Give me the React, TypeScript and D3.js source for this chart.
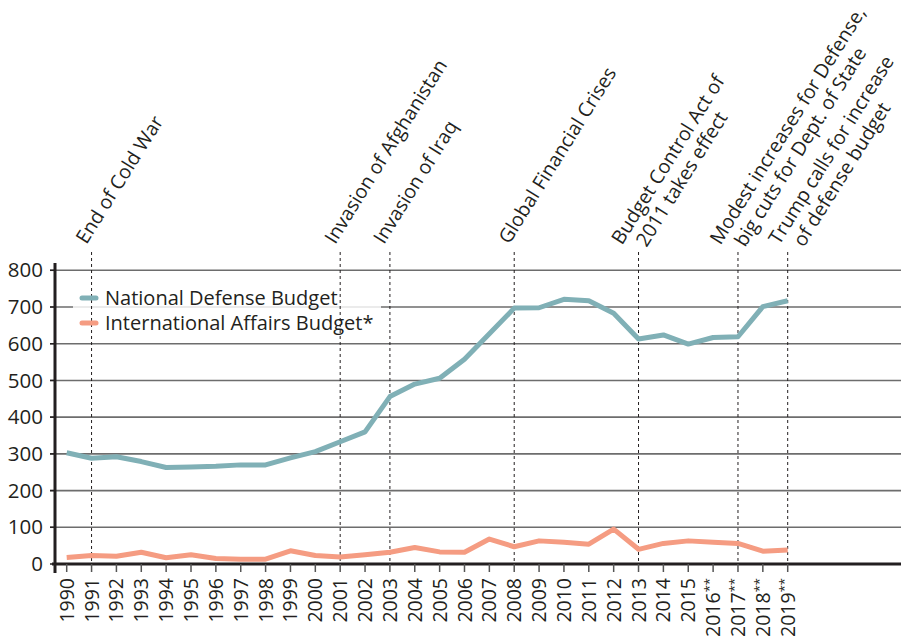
import React from 'react';
import { scaleLinear, line } from 'd3';

// US budget, billions of dollars
const years = [1990, 1991, 1992, 1993, 1994, 1995, 1996, 1997, 1998, 1999,
  2000, 2001, 2002, 2003, 2004, 2005, 2006, 2007, 2008, 2009,
  2010, 2011, 2012, 2013, 2014, 2015, 2016, 2017, 2018, 2019];
// years marked ** are estimates
const starredFrom = 2016;

const defense = [303, 288, 292, 279, 263, 264, 266, 270, 270, 289,
  306, 333, 360, 456, 490, 506, 558, 627, 697, 698,
  721, 717, 683, 613, 624, 599, 617, 619, 701, 717];
const intlAffairs = [18, 23, 21, 32, 17, 25, 15, 13, 13, 36,
  23, 19, 25, 32, 45, 33, 32, 68, 47, 63,
  59, 54, 95, 40, 56, 63, 59, 56, 35, 38];

const yTicks = [0, 100, 200, 300, 400, 500, 600, 700, 800];

const eventYears = [1991, 2001, 2003, 2008, 2013, 2017, 2019];
const eventLabels = [
  ['End of Cold War'],
  ['Invasion of Afghanistan'],
  ['Invasion of Iraq'],
  ['Global Financial Crises'],
  ['Budget Control Act of', '2011 takes effect'],
  ['Modest increases for Defense,', 'big cuts for Dept. of State'],
  ['Trump calls for increase', 'of defense budget'],
];
// horizontal nudge of each label block relative to its dashed line
const eventShift = [-5, -5, -6, -5, 8, 7, 16];

const seriesNames = ['National Defense Budget', 'International Affairs Budget*'];
const colors = ['#80b0b6', '#f59c82'];

const W = 901;
const H = 640;
const FONT = '"Open Sans", "Noto Sans", sans-serif';
const INK = '#231f20';

const App = () => {
  const x = scaleLinear().domain([1990, 2019]).range([66.7, 787.7]);
  const y = scaleLinear().domain([0, 800]).range([564, 270.3]);

  const path = line<number>()
    .x((d, i) => x(years[i]))
    .y(d => y(d));

  const axisY = y(0);

  return (
    <svg width={W} height={H} style={{ position: 'absolute', left: 0, top: 0, background: '#fff' }}
      fontFamily={FONT}>
      {/* gridlines */}
      {yTicks.filter(t => t > 0).map(t => (
        <line key={t} x1={50} x2={W} y1={y(t)} y2={y(t)} stroke="#6d6d6d" strokeWidth={1.6} />
      ))}

      {/* legend backdrop */}
      <rect x={73} y={286} width={308} height={52} fill="#fff" opacity={0.82} />

      {/* event markers */}
      {eventYears.map(yr => (
        <line key={yr} x1={x(yr)} x2={x(yr)} y1={252} y2={axisY}
          stroke={INK} strokeWidth={1} strokeDasharray="3,3" />
      ))}

      {eventYears.map((yr, i) => {
        const lines = eventLabels[i];
        const ax = x(yr) + eventShift[i];
        const ay = lines.length > 1 ? 248 : 245;
        return (
          <text key={yr} transform={`translate(${ax},${ay}) rotate(-58)`}
            fontSize={19.5} fill={INK}>
            {lines.length > 1 ? (
              <>
                <tspan x={-11} y={-22}>{lines[0]}</tspan>
                <tspan x={0} y={0}>{lines[1]}</tspan>
              </>
            ) : (
              <tspan x={0} y={0}>{lines[0]}</tspan>
            )}
          </text>
        );
      })}

      {/* series */}
      <path d={path(defense) || ''} fill="none" stroke={colors[0]} strokeWidth={5} strokeLinejoin="round" />
      <path d={path(intlAffairs) || ''} fill="none" stroke={colors[1]} strokeWidth={5} strokeLinejoin="round" />

      {/* legend */}
      {seriesNames.map((name, i) => (
        <g key={name} transform={`translate(80,${298 + i * 25})`}>
          <line x1={2} x2={16} y1={0} y2={0} stroke={colors[i]} strokeWidth={5} strokeLinecap="round" />
          <text x={25} y={0} dy="0.35em" fontSize={20} fill={INK}>{name}</text>
        </g>
      ))}

      {/* y axis */}
      <line x1={55} x2={55} y1={263} y2={573} stroke={INK} strokeWidth={3} />
      {yTicks.map(t => (
        <g key={t}>
          <line x1={50} x2={55} y1={y(t)} y2={y(t)} stroke={INK} strokeWidth={1.5} />
          <text x={43} y={y(t)} dy="0.35em" textAnchor="end" fontSize={20.5} fill={INK}>{t}</text>
        </g>
      ))}

      {/* x axis */}
      <line x1={52} x2={W} y1={axisY} y2={axisY} stroke={INK} strokeWidth={3} />
      {years.map(yr => (
        <g key={yr} transform={`translate(${x(yr)},0)`}>
          <line x1={0} x2={0} y1={axisY} y2={axisY + 8} stroke="#555" strokeWidth={1.5} />
          <text transform={`translate(0,${axisY + 14}) rotate(-90)`} dy="0.36em"
            textAnchor="end" fontSize={19.5} fill={INK}>
            {yr}
            {yr >= starredFrom && <tspan fontSize={13} dy="-0.45em">**</tspan>}
          </text>
        </g>
      ))}
    </svg>
  );
};

export default App;
